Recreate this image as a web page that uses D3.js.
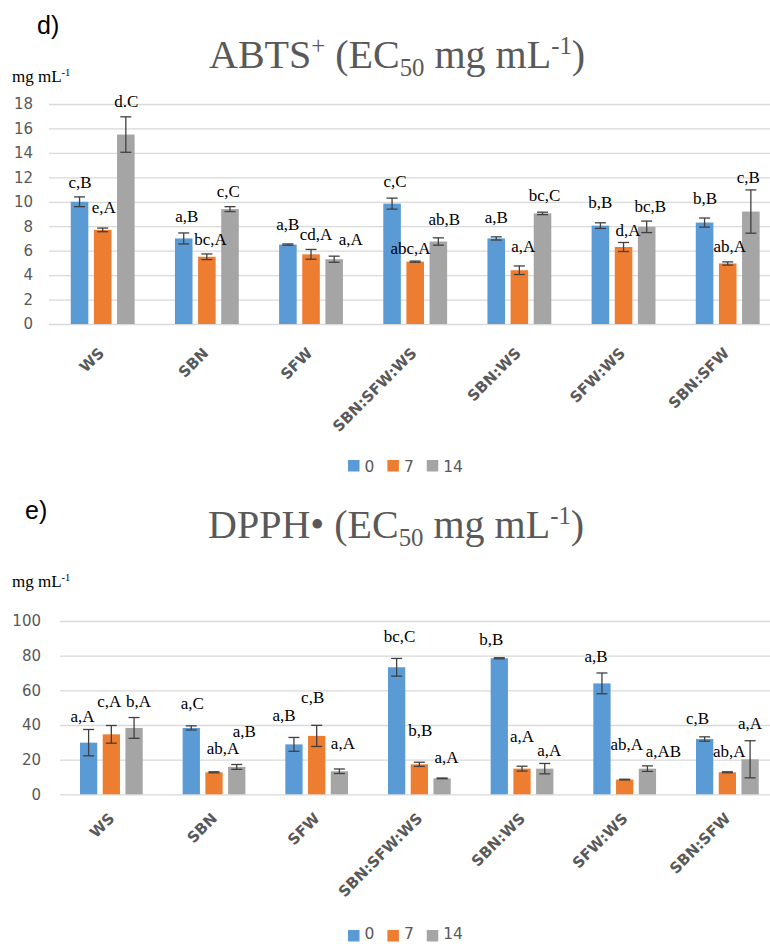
<!DOCTYPE html>
<html>
<head>
<meta charset="utf-8">
<script src="https://cdn.jsdelivr.net/npm/d3@7"></script>
<style>
  body { margin: 0; background: #fff; }
  svg { display: block; }
</style>
</head>
<body>
<div id="chart"></div>
<script>
// Treatments and storage days
var categories = ["WS", "SBN", "SFW", "SBN:SFW:WS", "SBN:WS", "SFW:WS", "SBN:SFW"];
var days = ["0", "7", "14"];

// d) ABTS+ EC50 (mg mL-1)
var abts0 = [10.0, 7.0, 6.5, 9.85, 7.0, 8.05, 8.3];
var abts7 = [7.7, 5.5, 5.7, 5.1, 4.4, 6.3, 4.95];
var abts14 = [15.5, 9.4, 5.3, 6.75, 9.05, 7.95, 9.2];
var abtsSd0 = [0.4, 0.45, 0.05, 0.45, 0.13, 0.23, 0.37];
var abtsSd7 = [0.15, 0.23, 0.4, 0.05, 0.35, 0.37, 0.13];
var abtsSd14 = [1.45, 0.2, 0.25, 0.3, 0.1, 0.47, 1.77];
var abtsLetters0 = ["c,B", "a,B", "a,B", "c,C", "a,B", "b,B", "b,B"];
var abtsLetters7 = ["e,A", "bc,A", "cd,A", "abc,A", "a,A", "d,A", "ab,A"];
var abtsLetters14 = ["d.C", "c,C", "a,A", "ab,B", "bc,C", "bc,B", "c,B"];

// e) DPPH EC50 (mg mL-1)
var dpph0 = [29.8, 38.3, 28.8, 73.3, 78.5, 64.0, 31.9];
var dpph7 = [34.6, 12.7, 33.7, 17.3, 14.8, 8.5, 12.7];
var dpph14 = [38.3, 15.8, 13.3, 9.2, 14.8, 14.8, 20.2];
var dpphSd0 = [7.6, 1.2, 4.0, 5.1, 0.3, 6.0, 1.25];
var dpphSd7 = [5.1, 0.3, 6.1, 1.2, 1.4, 0.2, 0.3];
var dpphSd14 = [6.0, 1.4, 1.3, 0.2, 3.0, 1.6, 10.7];
var dpphLetters0 = ["a,A", "a,C", "a,B", "bc,C", "b,B", "a,B", "c,B"];
var dpphLetters7 = ["c,A", "ab,A", "c,B", "b,B", "a,A", "ab,A", "ab,A"];
var dpphLetters14 = ["b,A", "a,B", "a,A", "a,A", "a,A", "a,AB", "a,A"];

// label nudges [dx, dy] from the top of each error bar (layout only)
var abtsNudge = [
  [[0.5, -9], [3, -11], [0, -14], [3, -11], [0, -13.4], [0, -15], [0.5, -13.7]],
  [[1, -15.4], [3.7, -9], [5, -9], [-4.6, -7.4], [4, -14.3], [4.5, -6.7], [2, -10.3]],
  [[0.5, -10], [-1.7, -10], [16.7, -11], [6, -12.7], [2, -11], [3.6, -9], [-2.5, -6.6]]
];
var dpphNudge = [
  [[-6, -7], [1, -16.5], [-10, -16.5], [3, -16], [-8, -12.7], [-6, -11], [-7, -12.5]],
  [[-2, -18], [9, -17.5], [-4, -22], [1, -26], [0, -24.5], [2, -29], [2, -14.5]],
  [[4.5, -11], [7.5, -27], [3.5, -19.7], [4.5, -15], [4.5, -7], [16, -8.6], [0, -11.7]]
];

var colors = ["#5B9BD5", "#ED7D31", "#A5A5A5"];
var svgWidth = 770;
var svgHeight = 944;

var svg = d3.select("#chart")
  .append("svg")
  .attr("width", svgWidth)
  .attr("height", svgHeight);

svg.append("rect")
  .attr("width", svgWidth)
  .attr("height", svgHeight)
  .attr("fill", "#fff");

var serif = "'Liberation Serif', 'Times New Roman', serif";
var sans = "'DejaVu Sans', sans-serif";

// title made of normal / superscript / subscript pieces
function writeTitle(x, y, pieces, size, color) {
  var t = svg.append("text")
    .attr("x", x)
    .attr("y", y)
    .attr("font-family", serif)
    .attr("font-size", size)
    .attr("fill", color);
  var shift = 0;
  pieces.forEach(function (p) {
    var target = p[1] === "sup" ? -size * 0.36 : p[1] === "sub" ? size * 0.2 : 0;
    t.append("tspan")
      .attr("dy", target - shift)
      .attr("font-size", p[1] ? size * 0.62 : size)
      .text(p[0]);
    shift = target;
  });
  return t;
}

function drawChart(cfg) {
  var series = [cfg.v0, cfg.v7, cfg.v14];
  var errs = [cfg.e0, cfg.e7, cfg.e14];
  var letters = [cfg.l0, cfg.l7, cfg.l14];

  var x0 = d3.scaleBand()
    .domain(categories)
    .range(cfg.xRange)
    .paddingInner(cfg.padIn)
    .paddingOuter(cfg.padIn / 2);

  var x1 = d3.scaleBand()
    .domain(days)
    .range([0, x0.bandwidth()])
    .paddingInner(0.24);

  var y = d3.scaleLinear()
    .domain(cfg.yDomain)
    .range(cfg.yRange);

  // gridlines
  var grid = svg.append("g")
    .attr("transform", `translate(${cfg.gridLeft}, 0)`)
    .call(d3.axisRight(y).tickValues(cfg.ticks).tickSize(svgWidth - cfg.gridLeft).tickFormat(""));
  grid.select(".domain").remove();
  grid.selectAll("line").attr("stroke", "#D9D9D9").attr("stroke-width", 1.3);

  // y tick labels
  var yAxis = svg.append("g")
    .attr("transform", `translate(${cfg.tickX}, 0)`)
    .call(d3.axisLeft(y).tickValues(cfg.ticks).tickSize(0).tickPadding(0));
  yAxis.select(".domain").remove();
  yAxis.selectAll("text")
    .attr("font-family", sans)
    .attr("font-size", 15)
    .attr("fill", "#595959");

  // category labels, rotated
  var xAxis = svg.append("g")
    .attr("transform", `translate(0, ${y(0)})`)
    .call(d3.axisBottom(x0).tickSize(0));
  xAxis.select(".domain").remove();
  xAxis.selectAll("text")
    .attr("y", 0)
    .attr("dy", 0)
    .attr("transform", `translate(${cfg.catDx}, ${cfg.catDy}) rotate(-45)`)
    .attr("text-anchor", "end")
    .attr("font-family", sans)
    .attr("font-weight", "bold")
    .attr("font-size", 15)
    .attr("fill", "#595959");

  // bars, error bars and letters
  var rows = [];
  categories.forEach(function (c, i) {
    days.forEach(function (d, k) {
      rows.push({ cat: c, day: d, k: k, v: series[k][i], e: errs[k][i], lab: letters[k][i], nudge: cfg.nudge[k][i] });
    });
  });

  svg.append("g")
    .selectAll("rect")
    .data(rows)
    .enter()
    .append("rect")
    .attr("x", d => x0(d.cat) + x1(d.day))
    .attr("y", d => y(d.v))
    .attr("width", x1.bandwidth())
    .attr("height", d => y(0) - y(d.v))
    .attr("fill", d => colors[d.k]);

  var cap = 5.5;
  var eb = svg.append("g")
    .attr("stroke", "#404040")
    .attr("stroke-width", 1.3);
  rows.forEach(function (d) {
    var cx = x0(d.cat) + x1(d.day) + x1.bandwidth() / 2;
    var yt = y(d.v + d.e), yb = y(d.v - d.e);
    eb.append("line").attr("x1", cx).attr("x2", cx).attr("y1", yt).attr("y2", yb);
    eb.append("line").attr("x1", cx - cap).attr("x2", cx + cap).attr("y1", yt).attr("y2", yt);
    eb.append("line").attr("x1", cx - cap).attr("x2", cx + cap).attr("y1", yb).attr("y2", yb);
  });

  svg.append("g")
    .selectAll("text")
    .data(rows)
    .enter()
    .append("text")
    .attr("x", d => x0(d.cat) + x1(d.day) + x1.bandwidth() / 2 + d.nudge[0])
    .attr("y", d => y(d.v + d.e) + d.nudge[1])
    .attr("text-anchor", "middle")
    .attr("font-family", serif)
    .attr("font-size", 17)
    .attr("fill", "#000")
    .text(d => d.lab);

  // panel letter, title, unit
  svg.append("text")
    .attr("x", cfg.panelPos[0])
    .attr("y", cfg.panelPos[1])
    .attr("font-family", "'Liberation Sans', Arial, sans-serif")
    .attr("font-size", 25)
    .attr("fill", "#000")
    .text(cfg.panel);

  writeTitle(cfg.titlePos[0], cfg.titlePos[1], cfg.title, 40, "#595959");
  writeTitle(cfg.unitPos[0], cfg.unitPos[1], [["mg mL"], ["-1", "sup"]], 17, "#000");

  // legend
  var legend = svg.append("g")
    .attr("transform", `translate(348, ${cfg.legendY})`);
  var lx = 0;
  days.forEach(function (d, k) {
    legend.append("rect")
      .attr("x", lx)
      .attr("y", -11.5 + cfg.legendBoxDy)
      .attr("width", 11.5)
      .attr("height", 11.5)
      .attr("fill", colors[k]);
    var t = legend.append("text")
      .attr("x", lx + 16.5)
      .attr("y", 0)
      .attr("font-family", sans)
      .attr("font-size", 15.5)
      .attr("fill", "#595959")
      .text(d);
    lx += 16.5 + t.node().getComputedTextLength() + 13;
  });
}

drawChart({
  v0: abts0, v7: abts7, v14: abts14,
  e0: abtsSd0, e7: abtsSd7, e14: abtsSd14,
  l0: abtsLetters0, l7: abtsLetters7, l14: abtsLetters14,
  nudge: abtsNudge,
  xRange: [50.6, 779.8], padIn: 0.387,
  yDomain: [0, 18], yRange: [324, 104], ticks: d3.range(0, 19, 2),
  gridLeft: 49, tickX: 33, catDx: 2.5, catDy: 30,
  panel: "d)", panelPos: [37, 34],
  title: [["ABTS"], ["+", "sup"], [" (EC"], ["50", "sub"], [" mg mL"], ["-1", "sup"], [")"]],
  titlePos: [209, 68], unitPos: [12, 81.7],
  legendY: 471.5, legendBoxDy: 0
});

drawChart({
  v0: dpph0, v7: dpph7, v14: dpph14,
  e0: dpphSd0, e7: dpphSd7, e14: dpphSd14,
  l0: dpphLetters0, l7: dpphLetters7, l14: dpphLetters14,
  nudge: dpphNudge,
  xRange: [60, 778.7], padIn: 0.389,
  yDomain: [0, 100], yRange: [794.3, 621], ticks: d3.range(0, 101, 20),
  gridLeft: 60, tickX: 41, catDx: 4, catDy: 25,
  panel: "e)", panelPos: [25, 519],
  title: [["DPPH\u2022 (EC"], ["50", "sub"], [" mg mL"], ["-1", "sup"], [")"]],
  titlePos: [208, 538], unitPos: [12, 586.7],
  legendY: 939, legendBoxDy: 2.5
});
</script>
</body>
</html>
